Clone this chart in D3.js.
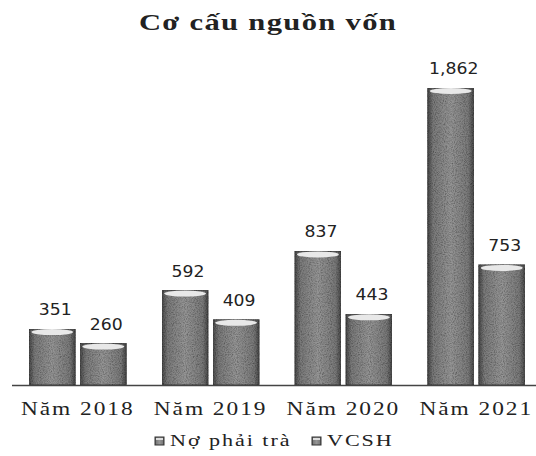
<!DOCTYPE html>
<html>
<head>
<meta charset="utf-8">
<script src="https://cdn.jsdelivr.net/npm/d3@7"></script>
<style>
  body { margin: 0; background: #fff; }
  svg text { fill: #222; }
</style>
</head>
<body>
<div id="chart"></div>
<script>
// data
const years = ['Năm 2018', 'Năm 2019', 'Năm 2020', 'Năm 2021'];
const seriesNames = ['Nợ phải trà', 'VCSH'];
const noPhaiTra = [351, 592, 837, 1862];
const vcsh = [260, 409, 443, 753];

const width = 536, height = 456;
const baseY = 385;
const serif = '"Liberation Serif", "Times New Roman", serif';

const svg = d3.select('#chart')
      .append('svg')
      .attr('width', width)
      .attr('height', height);

const defs = svg.append('defs');

// cylinder-ish shading: dark edges, grey middle
const grad = defs.append('linearGradient')
      .attr('id', 'barGrad')
      .attr('x1', '0%').attr('x2', '100%')
      .attr('y1', '0%').attr('y2', '0%');
grad.append('stop').attr('offset', '0%').attr('stop-color', '#4a4a4a');
grad.append('stop').attr('offset', '12%').attr('stop-color', '#7a7a7a');
grad.append('stop').attr('offset', '50%').attr('stop-color', '#959595');
grad.append('stop').attr('offset', '88%').attr('stop-color', '#7a7a7a');
grad.append('stop').attr('offset', '100%').attr('stop-color', '#4a4a4a');

// scan-like grain
const f = defs.append('filter').attr('id', 'grain')
      .attr('x', 0).attr('y', 0).attr('width', 1).attr('height', 1);
f.append('feTurbulence').attr('type', 'fractalNoise')
      .attr('baseFrequency', 0.9).attr('numOctaves', 2).attr('result', 'noise');
f.append('feColorMatrix').attr('in', 'noise').attr('type', 'matrix')
      .attr('values', '0 0 0 0 0  0 0 0 0 0  0 0 0 0 0  0 0 0 -1.2 0.75')
      .attr('result', 'dots');
f.append('feComposite').attr('in', 'dots').attr('in2', 'SourceGraphic')
      .attr('operator', 'in').attr('result', 'd2');
f.append('feMerge').selectAll('feMergeNode')
      .data(['SourceGraphic', 'd2']).enter()
      .append('feMergeNode').attr('in', d => d);

const data = years.map((y, i) => ({year: y, values: [noPhaiTra[i], vcsh[i]]}));

// scales
const x0 = d3.scaleBand()
      .domain(years)
      .range([16, 538])
      .paddingInner(0.27)
      .paddingOuter(0.1);

const x1 = d3.scaleBand()
      .domain([0, 1])
      .range([0, x0.bandwidth()])
      .paddingInner(0.1);

const y = d3.scaleLinear()
      .domain([0, 1862])
      .range([baseY, 88]);

// the scanned chart is stretched sideways, so text is widened a bit
function stretch(sel, sx) {
  sel.each(function() {
    const t = d3.select(this);
    const tx = +t.attr('x') || 0, ty = +t.attr('y') || 0;
    t.attr('x', 0).attr('y', 0)
     .attr('transform', 'translate(' + tx + ',' + ty + ') scale(' + sx + ',1)');
  });
}

// title
svg.append('text')
   .attr('x', 268).attr('y', 30)
   .attr('text-anchor', 'middle')
   .style('font-family', serif)
   .style('font-weight', 'bold')
   .style('font-size', '23px')
   .style('letter-spacing', '1px')
   .text('Cơ cấu nguồn vốn')
   .call(stretch, 1.33);

const groups = svg.selectAll('.grp')
      .data(data)
      .enter()
      .append('g')
      .attr('class', 'grp')
      .attr('transform', d => 'translate(' + x0(d.year) + ',0)');

const bars = groups.selectAll('.bar')
      .data(d => d.values.map((v, k) => ({k: k, v: v})))
      .enter()
      .append('g')
      .attr('class', 'bar');

bars.append('rect')
    .attr('x', d => x1(d.k))
    .attr('y', d => y(d.v))
    .attr('width', x1.bandwidth())
    .attr('height', d => baseY - y(d.v))
    .attr('fill', 'url(#barGrad)')
    .attr('stroke', '#3a3a3a')
    .attr('stroke-width', 0.8)
    .attr('filter', 'url(#grain)');

// light top cap
bars.append('ellipse')
    .attr('cx', d => x1(d.k) + x1.bandwidth() / 2)
    .attr('cy', d => y(d.v) + 3)
    .attr('rx', x1.bandwidth() / 2 - 2)
    .attr('ry', 3)
    .attr('fill', '#e8e8e8');

// value labels
bars.append('text')
    .attr('x', d => x1(d.k) + x1.bandwidth() / 2 + 3)
    .attr('y', d => y(d.v) - 14)
    .attr('text-anchor', 'middle')
    .style('font-family', '"DejaVu Sans", Verdana, sans-serif')
    .style('font-size', '15px')
    .text(d => d3.format(',')(d.v))
    .call(stretch, 1.15);

// baseline + category axis
svg.append('line')
   .attr('x1', 12).attr('x2', 536)
   .attr('y1', baseY + 0.5).attr('y2', baseY + 0.5)
   .attr('stroke', '#444').attr('stroke-width', 1.5);

const xAxis = d3.axisBottom(x0).tickSize(0).tickPadding(10);
const xAxisG = svg.append('g')
      .attr('transform', 'translate(0,' + baseY + ')')
      .call(xAxis);
xAxisG.select('.domain').remove();
xAxisG.selectAll('text')
      .attr('fill', '#222')
      .attr('dy', null)
      .attr('y', 30)
      .style('font-family', serif)
      .style('font-size', '18px')
      .style('letter-spacing', '1.5px')
      .call(stretch, 1.3);

// legend
const legendX = [155, 312];
const leg = svg.selectAll('.leg')
      .data(seriesNames)
      .enter()
      .append('g')
      .attr('class', 'leg')
      .attr('transform', (d, i) => 'translate(' + legendX[i] + ',437)');
leg.append('rect')
   .attr('width', 9).attr('height', 8)
   .attr('fill', 'url(#barGrad)')
   .attr('stroke', '#333');
leg.append('rect')
   .attr('x', 1).attr('y', 1).attr('width', 7).attr('height', 2)
   .attr('fill', '#ddd');
leg.append('text')
   .attr('x', 15).attr('y', 9)
   .style('font-family', serif)
   .style('font-size', '17px')
   .style('letter-spacing', '1.5px')
   .text(d => d)
   .call(stretch, 1.3);
</script>
</body>
</html>
